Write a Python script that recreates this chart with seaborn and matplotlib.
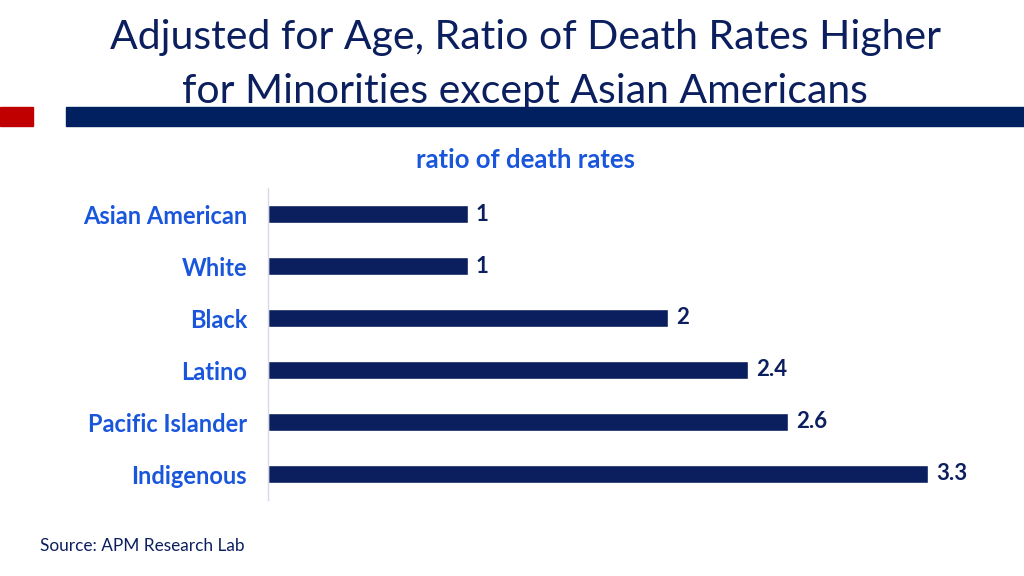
import matplotlib
matplotlib.use("Agg")
import matplotlib.pyplot as plt
import matplotlib.patches as mpatches
import seaborn as sns
import pandas as pd

groups = ['Asian American', 'White', 'Black', 'Latino', 'Pacific Islander', 'Indigenous']
ratios = [1, 1, 2, 2.4, 2.6, 3.3]
value_labels = ['1', '1', '2', '2.4', '2.6', '3.3']

navy = '#0B1F5E'
blue = '#1A56DB'

sns.set_theme(style='white')
plt.rcParams['font.family'] = ['Lato', 'DejaVu Sans']

df = pd.DataFrame({'group': groups, 'ratio': ratios})

fig = plt.figure(figsize=(10.24, 5.76), dpi=100)
ax = fig.add_axes([268 / 1024, 1 - 500 / 576, 720 / 1024, 312 / 576])

sns.barplot(data=df, x='ratio', y='group', orient='h', color=navy,
            width=0.35, saturation=1, ax=ax)
ax.set_xlim(0, 3.6)
ax.set_xlabel('')
ax.set_ylabel('')
ax.set_xticks([])
ax.tick_params(axis='y', length=0, pad=15)
for lab in ax.get_yticklabels():
    lab.set_color(blue)
    lab.set_fontweight('bold')
    lab.set_fontsize(17)
for s in ['top', 'right', 'bottom']:
    ax.spines[s].set_visible(False)
ax.spines['left'].set_color('#D6DAEA')
ax.spines['left'].set_linewidth(1)

for i, (v, t) in enumerate(zip(ratios, value_labels)):
    ax.text(v + 0.04, i, t, va='center', ha='left', color=navy,
            fontsize=16, fontweight='bold')

# header
fig.text(0.513, 1 - 37 / 576, 'Adjusted for Age, Ratio of Death Rates Higher',
         ha='center', va='center', color=navy, fontsize=29.5)
fig.text(0.513, 1 - 92 / 576, 'for Minorities except Asian Americans',
         ha='center', va='center', color=navy, fontsize=29.5)
fig.patches.append(mpatches.Rectangle((0, 1 - 126 / 576), 33 / 1024, 19 / 576,
                                      transform=fig.transFigure, color='#C00000'))
fig.patches.append(mpatches.Rectangle((66 / 1024, 1 - 126 / 576), 958 / 1024, 19 / 576,
                                      transform=fig.transFigure, color='#002060'))

fig.text(525 / 1024, 1 - 160 / 576, 'ratio of death rates', ha='center', va='center',
         color=blue, fontsize=18.5, fontweight='bold')
fig.text(40 / 1024, 1 - 546 / 576, 'Source: APM Research Lab', ha='left', va='center',
         color=navy, fontsize=12.4)

fig.savefig('out.png', dpi=100)
